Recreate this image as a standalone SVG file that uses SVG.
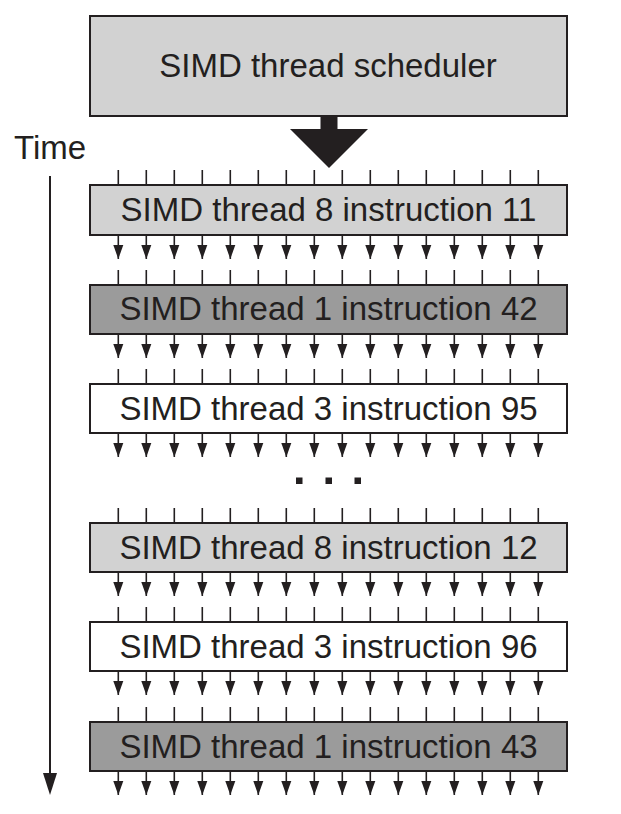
<svg xmlns="http://www.w3.org/2000/svg" width="621" height="814" viewBox="0 0 621 814">
<style>
.box{stroke:#231f20;stroke-width:2}
.light{fill:#d2d2d2}
.dark{fill:#9b9b9b}
.white{fill:#ffffff}
.lbl{font-family:"Liberation Sans",Arial,sans-serif;font-size:33px;fill:#231f20;text-anchor:middle}
.tick{stroke:#231f20;stroke-width:1.6;fill:none}
.arr{stroke:#231f20;stroke-width:1.6;fill:none;marker-end:url(#ah)}
</style>
<defs>
<marker id="ah" markerUnits="userSpaceOnUse" markerWidth="16" markerHeight="12" refX="14" refY="6" orient="auto" viewBox="0 0 16 12">
<path d="M0,1 L14,6 L0,11 z" fill="#231f20"/>
</marker>
<g id="ticks">
<path class="tick" d="M118.3,0v15M146.3,0v15M174.3,0v15M202.3,0v15M230.3,0v15M258.3,0v15M286.3,0v15M314.3,0v15M342.3,0v15M370.3,0v15M398.3,0v15M426.3,0v15M454.3,0v15M482.3,0v15M510.3,0v15M538.3,0v15"/>
</g>
<g id="arrows">
<path class="arr" d="M118.3,0v24"/><path class="arr" d="M146.3,0v24"/><path class="arr" d="M174.3,0v24"/><path class="arr" d="M202.3,0v24"/>
<path class="arr" d="M230.3,0v24"/><path class="arr" d="M258.3,0v24"/><path class="arr" d="M286.3,0v24"/><path class="arr" d="M314.3,0v24"/>
<path class="arr" d="M342.3,0v24"/><path class="arr" d="M370.3,0v24"/><path class="arr" d="M398.3,0v24"/><path class="arr" d="M426.3,0v24"/>
<path class="arr" d="M454.3,0v24"/><path class="arr" d="M482.3,0v24"/><path class="arr" d="M510.3,0v24"/><path class="arr" d="M538.3,0v24"/>
</g>
</defs>

<g id="scheduler">
<rect class="box light" x="90" y="16" width="477" height="100"/>
<text class="lbl" x="328" y="77">SIMD thread scheduler</text>
</g>

<g id="time">
<text x="14" y="159" style="font-family:'Liberation Sans',Arial,sans-serif;font-size:33px;fill:#231f20">Time</text>
</g>

<g id="connectors">
<path d="M320.5,116 H337.5 V129 H368 L329,168 L290,129 H320.5 Z" fill="#231f20"/>
<path d="M50,176 V774" stroke="#231f20" stroke-width="2" fill="none"/>
<path d="M43,773 L57,773 L50,795 Z" fill="#231f20"/>
<use href="#ticks" y="170"/>
<use href="#arrows" y="235"/>
<use href="#ticks" y="270"/>
<use href="#arrows" y="334"/>
<use href="#ticks" y="369"/>
<use href="#arrows" y="433"/>
<use href="#ticks" y="508"/>
<use href="#arrows" y="572"/>
<use href="#ticks" y="607"/>
<use href="#arrows" y="671"/>
<use href="#ticks" y="707"/>
<use href="#arrows" y="771"/>
</g>

<g id="dots" fill="#231f20">
<rect x="296" y="477.5" width="6.5" height="6.5"/>
<rect x="325.5" y="477.5" width="6.5" height="6.5"/>
<rect x="354.5" y="477.5" width="6.5" height="6.5"/>
</g>

<g id="instr1">
<rect class="box light" x="90" y="185" width="477" height="50"/>
<text class="lbl" x="328.5" y="221">SIMD thread 8 instruction 11</text>
</g>
<g id="instr2">
<rect class="box dark" x="90" y="285" width="477" height="49"/>
<text class="lbl" x="328.5" y="320">SIMD thread 1 instruction 42</text>
</g>
<g id="instr3">
<rect class="box white" x="90" y="384" width="477" height="49"/>
<text class="lbl" x="328.5" y="419.5">SIMD thread 3 instruction 95</text>
</g>
<g id="instr4">
<rect class="box light" x="90" y="523" width="477" height="49"/>
<text class="lbl" x="328.5" y="558.5">SIMD thread 8 instruction 12</text>
</g>
<g id="instr5">
<rect class="box white" x="90" y="622" width="477" height="49"/>
<text class="lbl" x="328.5" y="657.5">SIMD thread 3 instruction 96</text>
</g>
<g id="instr6">
<rect class="box dark" x="90" y="722" width="477" height="49"/>
<text class="lbl" x="328.5" y="757.5">SIMD thread 1 instruction 43</text>
</g>
</svg>
